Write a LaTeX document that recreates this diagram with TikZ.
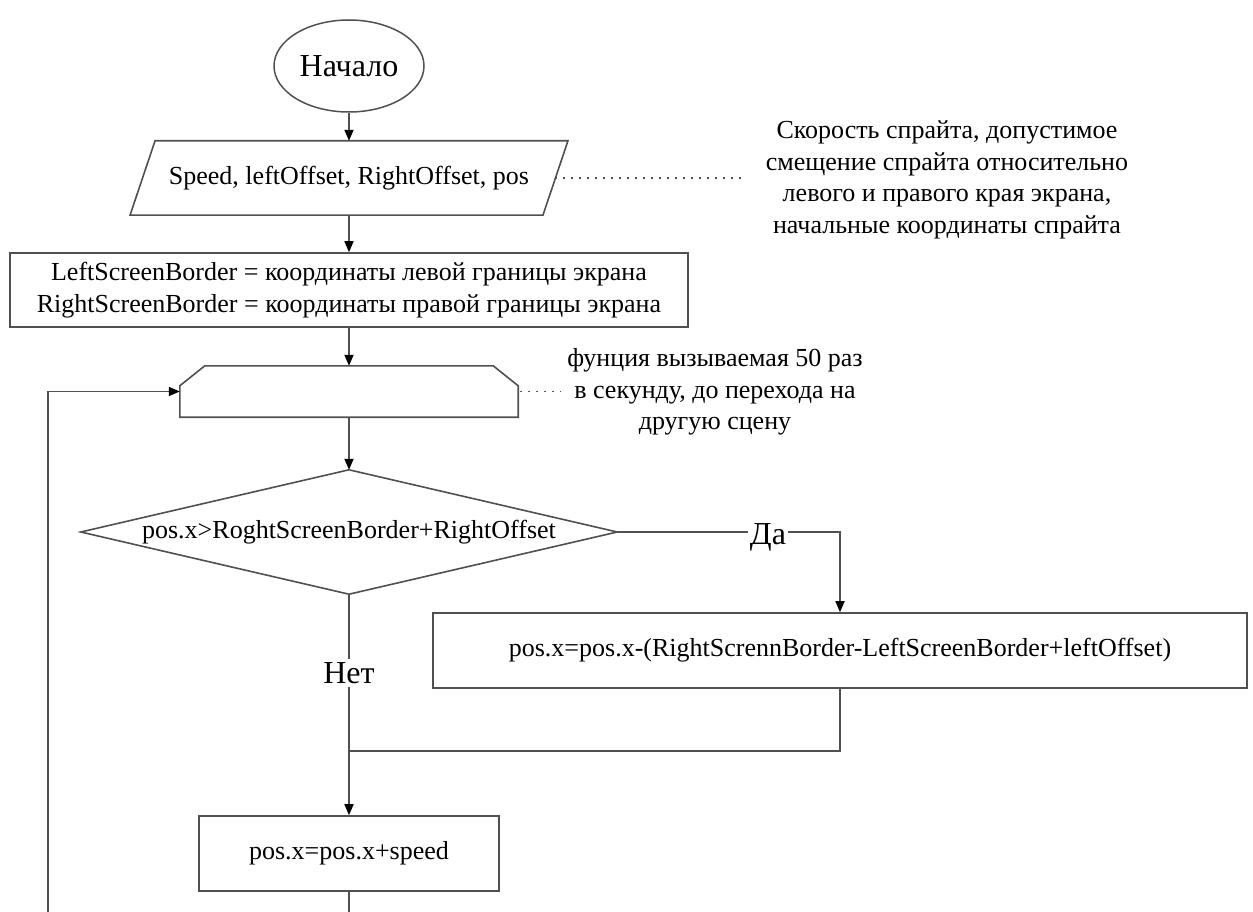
\documentclass[tikz,border=0pt]{standalone}
\usepackage{fontspec}
\setmainfont{Liberation Serif}
\usetikzlibrary{arrows.meta,calc,shapes.geometric}
\definecolor{edge}{RGB}{80,80,80}
\begin{document}
\begin{tikzpicture}[x=1pt,y=-1pt,
  txt/.style={font=\fontsize{26}{32}\selectfont, align=center, inner sep=0pt},
  big/.style={font=\fontsize{32}{38}\selectfont, inner sep=2pt},
  outline/.style={draw=edge, line width=1.6pt},
  box/.style={txt, outline, rectangle},
  line/.style={draw=edge, line width=1.6pt},
  flow/.style={line, -{Triangle[length=11pt,width=9pt,color=black]}},
  note/.style={line, line width=1.8pt, dash pattern=on 1.8pt off 6.2pt}
]
\useasboundingbox (0,0) rectangle (1253,912);

% blocks
\node[big, draw=edge, line width=1.5pt, ellipse, minimum width=150pt, minimum height=92pt, inner sep=0pt]
  (start) at (349,66) {Начало};
\node[txt, minimum width=412.5pt, minimum height=74pt] (inp) at (349,178) {Speed, leftOffset, RightOffset, pos};
\draw[outline] ([xshift=12.5pt]inp.north west) -- ([xshift=12.5pt]inp.north east)
  -- ([xshift=-12.5pt]inp.south east) -- ([xshift=-12.5pt]inp.south west) -- cycle;

\node[box, minimum width=678pt, minimum height=74pt] (init) at (349,290)
  {LeftScreenBorder = координаты левой границы экрана\\RightScreenBorder = координаты правой границы экрана};

\node[txt, minimum width=338pt, minimum height=51pt] (loop) at (349,391.5) {};
\draw[outline] (loop.south west) -- ([yshift=-20pt]loop.north west) -- ([xshift=25pt]loop.north west)
  -- ([xshift=-25pt]loop.north east) -- ([yshift=-20pt]loop.north east) -- (loop.south east) -- cycle;

\node[txt, minimum width=536pt, minimum height=124pt] (cond) at (349,532) {pos.x>RoghtScreenBorder+RightOffset};
\draw[outline] (cond.north) -- (cond.east) -- (cond.south) -- (cond.west) -- cycle;

\node[box, minimum width=814pt, minimum height=75pt] (upd) at (840,650.5)
  {pos.x=pos.x-(RightScrennBorder-LeftScreenBorder+leftOffset)};
\node[box, minimum width=300pt, minimum height=75pt] (move) at (349,853.5) {pos.x=pos.x+speed};

% comments
\node[txt, font=\fontsize{26}{31.5}\selectfont] (note1) at (947,180)
  {Скорость спрайта, допустимое\\смещение спрайта относительно\\левого и правого края экрана,\\начальные координаты спрайта};
\node[txt, font=\fontsize{26}{31.5}\selectfont] (note2) at (715,392)
  {фунция вызываемая 50 раз\\в секунду, до перехода на\\другую сцену};
\draw[note] (inp.east) -- ([xshift=-21pt]note1.west |- inp.east);
\draw[note] ([xshift=2pt]loop.east) -- ([xshift=-6pt]note2.west |- loop.east);

% connectors
\coordinate (join) at (349,751);
\coordinate (exit) at (349,912);
\coordinate (back) at (48,912);
\draw[flow] (start) -- (inp);
\draw[flow] (inp) -- (init);
\draw[flow] (init) -- (loop);
\draw[flow] (loop) -- (cond);
\draw[flow] (cond.east) -- (cond.east -| upd.north) -- (upd.north);
\draw[flow] (cond.south) -- (move.north);
\draw[line] (upd.south) -- (upd.south |- join) -- (join);
\draw[line] (move.south) -- (exit);
\draw[flow] (back) -- (back |- loop.west) -- (loop.west);

% branch labels
\node[big, fill=white, inner sep=1.5pt] (yes) at (768,537) {Да};
\node[big, fill=white, inner sep=3pt] (no) at (349,673) {Нет};
\end{tikzpicture}
\end{document}
